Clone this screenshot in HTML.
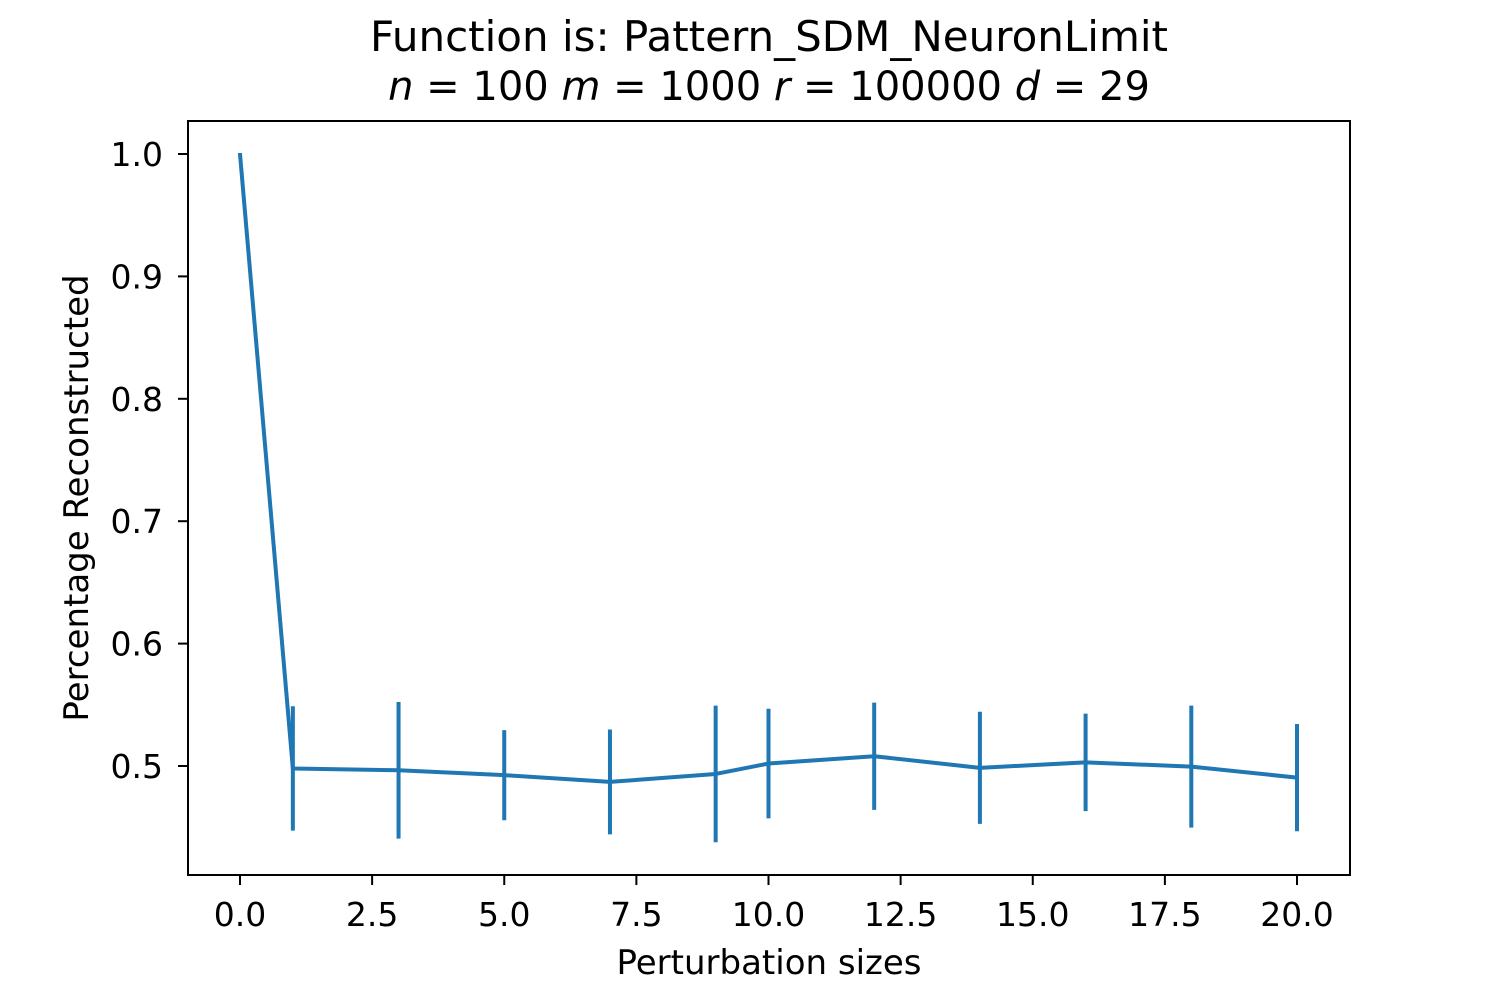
<!DOCTYPE html>
<html><head><meta charset="utf-8"><style>
html,body{margin:0;padding:0;background:#fff;}
svg text{font-family:"DejaVu Sans","Liberation Sans",sans-serif;fill:#000;}
</style></head>
<body>
<svg id="chart" width="1500" height="1000" viewBox="0 0 1500 1000" xmlns="http://www.w3.org/2000/svg">
<rect width="1500" height="1000" fill="#fff"/>
<text x="769" y="51" font-size="42" text-anchor="middle">Function is: Pattern_SDM_NeuronLimit</text>
<text x="769" y="100" font-size="40" text-anchor="middle"><tspan font-style="italic">n</tspan> = 100 <tspan font-style="italic">m</tspan> = 1000 <tspan font-style="italic">r</tspan> = 100000 <tspan font-style="italic">d</tspan> = 29</text>
<g id="xticks"></g><g id="yticks"></g>
<g id="series"></g>
<rect x="188" y="121" width="1162" height="754" fill="none" stroke="#000" stroke-width="2"/>
<text x="769" y="974" font-size="34" text-anchor="middle">Perturbation sizes</text>
<text transform="translate(88,498) rotate(-90)" font-size="34" text-anchor="middle">Percentage Reconstructed</text>
</svg>
<script>
const xs = [0,1,3,5,7,9,10,12,14,16,18,20];
const ys = [1.0,0.498,0.4965,0.4925,0.487,0.4935,0.502,0.508,0.4985,0.503,0.4995,0.4905];
const errs = [0,0.05,0.055,0.036,0.042,0.055,0.044,0.043,0.045,0.039,0.049,0.043];
const xTickVals = [0,2.5,5,7.5,10,12.5,15,17.5,20];
const xTickLabels = ["0.0","2.5","5.0","7.5","10.0","12.5","15.0","17.5","20.0"];
const yTickVals = [0.5,0.6,0.7,0.8,0.9,1.0];
const yTickLabels = ["0.5","0.6","0.7","0.8","0.9","1.0"];

const NS="http://www.w3.org/2000/svg";
function X(v){return 240+(1297-240)*v/20;}
function Y(v){return 766-(766-154)*(v-0.5)/0.5;}
function mk(tag,attrs,parent){const e=document.createElementNS(NS,tag);for(const k in attrs)e.setAttribute(k,attrs[k]);parent.appendChild(e);return e;}

const xg=document.getElementById('xticks');
xTickVals.forEach((v,i)=>{
  const l=mk('line',{x1:X(v),x2:X(v),y1:875,y2:885,stroke:'#000','stroke-width':2},xg);
  
  
  const t=mk('text',{x:X(v),y:926,'font-size':33,'text-anchor':'middle'},xg);
  t.textContent=xTickLabels[i];
  
  
});
const yg=document.getElementById('yticks');
yTickVals.forEach((v,i)=>{
  const l=mk('line',{x1:178,x2:188,y1:Y(v),y2:Y(v),stroke:'#000','stroke-width':2},yg);
  
  
  const t=mk('text',{x:163,y:Y(v)+12,'font-size':33,'text-anchor':'end'},yg);
  t.textContent=yTickLabels[i];
  
  
});
const sg=document.getElementById('series');
const pts=xs.map((x,i)=>X(x)+','+Y(ys[i])).join(' ');
const pl=mk('polyline',{points:pts,fill:'none',stroke:'#1f77b4','stroke-width':4,'stroke-linejoin':'round'},sg);


xs.forEach((x,i)=>{
  const e=mk('line',{x1:X(x),x2:X(x),y1:Y(ys[i]+errs[i])-1,y2:Y(ys[i]-errs[i])+1,stroke:'#1f77b4','stroke-width':4},sg);
  
  
});
</script>
</body></html>
